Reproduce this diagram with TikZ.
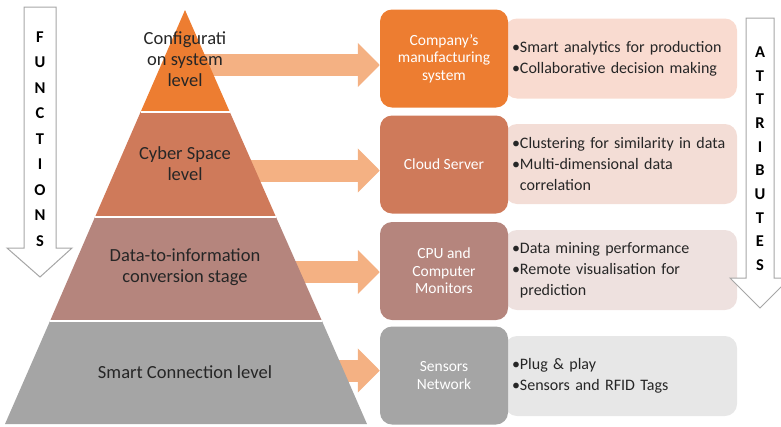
\documentclass[tikz,border=0pt]{standalone}
\usepackage{fontspec}
\setmainfont{Carlito}
\usetikzlibrary{arrows.meta,positioning,calc}
\definecolor{cfgcol}{HTML}{ED7D31}
\definecolor{cybcol}{HTML}{CF7A5A}
\definecolor{datcol}{HTML}{B5857D}
\definecolor{concol}{HTML}{A5A5A5}
\definecolor{flowcol}{HTML}{F4B183}
\definecolor{cfglt}{HTML}{F9DBD0}
\definecolor{cyblt}{HTML}{F3DDD6}
\definecolor{datlt}{HTML}{EEE1DF}
\definecolor{conlt}{HTML}{E7E7E7}
\definecolor{outline}{HTML}{A6A6A6}

\begin{document}
\begin{tikzpicture}[x=1pt,y=-1pt,
  lvltext/.style={align=center, text=black!85, font=\fontsize{18.5}{21}\selectfont},
  sysbox/.style={rounded corners=12pt, minimum width=128pt, minimum height=98pt, text=white, align=center, font=\fontsize{15.5}{17.5}\selectfont},
  attrbox/.style={rounded corners=12pt, minimum height=80pt, inner xsep=7pt, text width=218pt, align=left, text=black!85, font=\fontsize{16}{21}\selectfont},
  flow/.style={draw=flowcol, line width=22pt, -{Triangle[length=22pt,width=43pt]}},
  hollow/.style={draw=outline, fill=white, line width=1pt},
  vlet/.style={font=\bfseries\fontsize{16.5}{16.5}\selectfont, text=black, inner sep=0pt}
]
\useasboundingbox (0,0) rectangle (781,426);
% Columns
\def\xs{444} \def\xa{621}

% Attribute boxes (behind) and system boxes
\node[attrbox, fill=cfglt] (at1) at (\xa,58.5) {•Smart analytics for production\\•Collaborative decision making};
\node[attrbox, fill=cyblt] (at2) at (\xa,164) {•Clustering for similarity in data\\•Multi-dimensional data\\\phantom{•}correlation};
\node[attrbox, fill=datlt] (at3) at (\xa,270) {•Data mining performance\\•Remote visualisation for\\\phantom{•}prediction};
\node[attrbox, fill=conlt] (at4) at (\xa,376) {•Plug \& play\\•Sensors and RFID Tags};

\node[sysbox, fill=cfgcol] (sys1) at (\xs,58.5) {Company’s\\manufacturing\\system};
\node[sysbox, fill=cybcol] (sys2) at (\xs,164.5) {Cloud Server};
\node[sysbox, fill=datcol] (sys3) at (\xs,271) {CPU and\\Computer\\Monitors};
\node[sysbox, fill=concol] (sys4) at (\xs,375.5) {Sensors\\Network};

% Flow arrows (pyramid covers their tails)
\coordinate (f1) at (195,65);
\coordinate (f2) at (240,170.5);
\coordinate (f3) at (285,272);
\coordinate (f4) at (330,370.5);
\foreach \i in {1,...,4}
  \draw[flow] (f\i) -- (f\i -| sys\i.west);

% Pyramid layers
\fill[cfgcol] (185,10) -- (229.8,112) -- (140.6,112) -- cycle;
\fill[cybcol] (140.6,112) -- (229.8,112) -- (276,217) -- (95,217) -- cycle;
\fill[datcol] (95,217) -- (276,217) -- (322,321) -- (50,321) -- cycle;
\fill[concol] (50,321) -- (322,321) -- (367,424) -- (5,424) -- cycle;
\draw[white, line width=2pt] (140.6,112) -- (229.8,112)
  (95,217) -- (276,217) (50,321) -- (322,321);

\node[lvltext] (cfg) at (185,59) {Configurati\\on system\\level};
\node[lvltext] (cyb) at (185,164) {Cyber Space\\level};
\node[lvltext] (dat) at (185,267) {Data-to-information\\conversion stage};
\node[lvltext] (con) at (185,372) {Smart Connection level};

% Side arrows
\draw[hollow] (24,7) -- (56,7) -- (56,248) -- (72,248) -- (40,277) -- (7,248) -- (24,248) -- cycle;
\foreach \c [count=\i] in {F,U,N,C,T,I,O,N,S}
  \node[vlet] (fn\i) at (40,{37+25.5*(\i-1)}) {\c};

\draw[hollow] (746,18) -- (774,18) -- (774,278) -- (790,278) -- (760,308) -- (730,278) -- (746,278) -- cycle;
\foreach \c [count=\i] in {A,T,T,R,I,B,U,T,E,S}
  \node[vlet] (at\i l) at (760,{52+23.7*(\i-1)}) {\c};
\end{tikzpicture}
\end{document}
